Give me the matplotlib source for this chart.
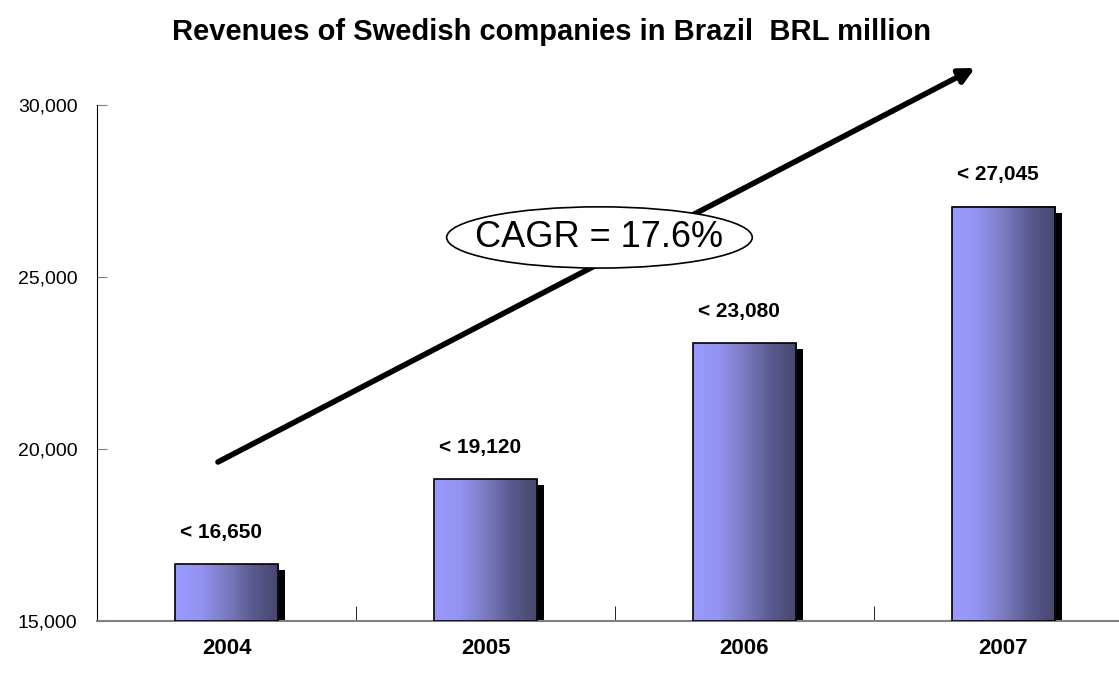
import numpy as np
import matplotlib.pyplot as plt
from matplotlib.colors import LinearSegmentedColormap
from matplotlib.patches import Ellipse, Rectangle

years = ["2004", "2005", "2006", "2007"]
revenues = [16650, 19120, 23080, 27045]
value_labels = ["< 16,650", "< 19,120", "< 23,080", "< 27,045"]
y_ticks = [15000, 20000, 25000, 30000]
cagr_text = "CAGR = 17.6%"
title = "Revenues of Swedish companies in Brazil  BRL million"

plt.rcParams['font.family'] = ['Liberation Sans Narrow', 'Liberation Sans', 'DejaVu Sans']

fig = plt.figure(figsize=(11.19, 6.81), dpi=100)
ax = fig.add_axes([0.0867, 0.0881, 0.9258, 0.7577])

ymin, ymax = 15000, 30000
ax.set_xlim(-0.5, 3.5)
ax.set_ylim(ymin, ymax)

grad = LinearSegmentedColormap.from_list(
    "bar", ["#9a9aff", "#9393f0", "#7a7ac0", "#5a5a90", "#46466c"])
gradient = np.linspace(0, 1, 256).reshape(1, -1)

width = 0.4
dx = 0.024   # shadow offset in category units
dy = 170     # shadow offset in data units
x = np.arange(len(years))
for xi, v, lab in zip(x, revenues, value_labels):
    # shadow
    ax.add_patch(Rectangle((xi - width / 2 + dx, ymin), width, v - dy - ymin,
                           facecolor="black", edgecolor="none", zorder=2))
    ax.imshow(gradient, cmap=grad, aspect="auto", zorder=3,
              extent=(xi - width / 2, xi + width / 2, ymin, v))
    ax.add_patch(Rectangle((xi - width / 2, ymin), width, v - ymin,
                           facecolor="none", edgecolor="black", lw=1.2, zorder=4))
    ax.text(xi - 0.02, v + 650, lab, ha="center", va="bottom",
            fontsize=15, fontweight="bold")

ax.set_xlim(-0.5, 3.5)
ax.set_ylim(ymin, ymax)

# growth arrow
ax.annotate("", xy=(2.89, 31076), xytext=(-0.033, 19622),
            arrowprops=dict(arrowstyle="-|>,head_length=0.9,head_width=0.45",
                            lw=4, color="black", shrinkA=0, shrinkB=0),
            annotation_clip=False, zorder=5)

ell = Ellipse((1.44, 26150), 1.18, 1780, facecolor="white",
              edgecolor="black", lw=1.2, zorder=6)
ax.add_patch(ell)
ax.text(1.44, 26150, cagr_text, ha="center", va="center", fontsize=26, zorder=7)

ax.set_yticks(y_ticks)
ax.set_yticklabels([f"{t:,}" for t in y_ticks], fontsize=14)
ax.set_xticks(x)
ax.set_xticklabels(years, fontsize=16, fontweight="bold")
ax.set_xticks(np.arange(len(years)) + 0.5, minor=True)

ax.tick_params(axis="y", direction="in", length=7, color="#808080", pad=14)
ax.tick_params(axis="x", which="major", length=0, pad=12)
ax.tick_params(axis="x", which="minor", direction="in", length=11, color="black")

ax.spines["top"].set_visible(False)
ax.spines["right"].set_visible(False)
ax.spines["bottom"].set_color("#808080")
ax.spines["bottom"].set_linewidth(1.5)
ax.spines["left"].set_color("black")

fig.text(0.493, 0.953, title, ha="center", va="center",
         fontsize=21, fontweight="bold")

fig.savefig("out.png", dpi=100)
